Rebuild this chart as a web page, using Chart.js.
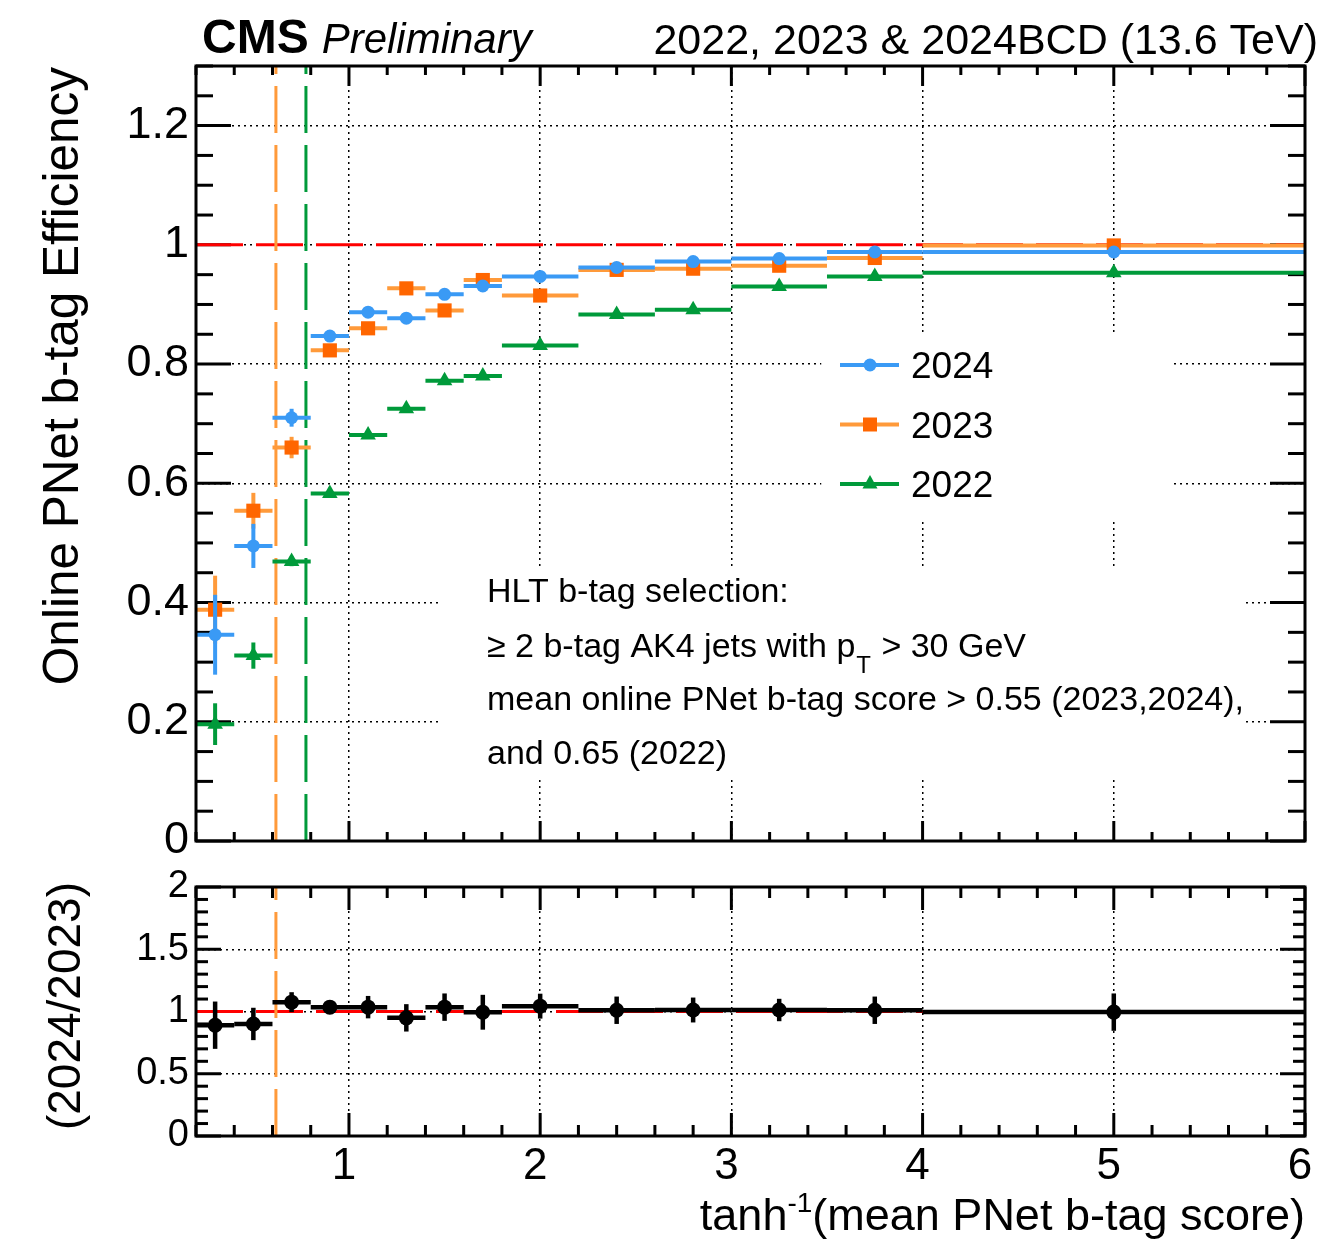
<!DOCTYPE html>
<html>
<head>
<meta charset="utf-8">
<script src="https://cdn.jsdelivr.net/npm/chart.js@4.4.1/dist/chart.umd.min.js"></script>
<style>
  html, body { margin: 0; padding: 0; background: #fff; }
  #wrap { position: relative; width: 1327px; height: 1243px; overflow: hidden; }
  #main-chart { position: absolute; left: 0; top: 0; }
  #ratio-chart { position: absolute; left: 0; top: 850px; }
</style>
</head>
<body>
<div id="wrap">
  <canvas id="main-chart" width="1327" height="880"></canvas>
  <canvas id="ratio-chart" width="1327" height="393"></canvas>
</div>
<script>
// bins in tanh^-1(mean PNet score)
const binLow    = [0.2, 0.4, 0.6, 0.8, 1.0, 1.2, 1.4, 1.6, 1.8, 2.2, 2.6, 3.0, 3.5, 4.0];
const binHigh   = [0.4, 0.6, 0.8, 1.0, 1.2, 1.4, 1.6, 1.8, 2.2, 2.6, 3.0, 3.5, 4.0, 6.0];
const binCenter = [0.3, 0.5, 0.7, 0.9, 1.1, 1.3, 1.5, 1.7, 2.0, 2.4, 2.8, 3.25, 3.75, 5.0];

// efficiencies
const eff2024 = [0.346, 0.495, 0.710, 0.847, 0.887, 0.877, 0.917, 0.931, 0.947, 0.962, 0.972, 0.977, 0.988, 0.988];
const err2024 = [0.067, 0.037, 0.015, 0.008, 0.006, 0.006, 0.005, 0.005, 0.004, 0.004, 0.003, 0.003, 0.003, 0.003];
const eff2023 = [0.388, 0.554, 0.660, 0.823, 0.860, 0.927, 0.890, 0.941, 0.915, 0.958, 0.960, 0.965, 0.978, 0.999];
const err2023 = [0.057, 0.030, 0.018, 0.008, 0.007, 0.006, 0.006, 0.005, 0.004, 0.004, 0.004, 0.003, 0.003, 0.003];
const eff2022 = [0.196, 0.311, 0.469, 0.583, 0.681, 0.725, 0.772, 0.780, 0.831, 0.883, 0.891, 0.930, 0.947, 0.953];
const err2022 = [0.035, 0.022, 0.008, 0.006, 0.006, 0.005, 0.005, 0.005, 0.004, 0.004, 0.004, 0.003, 0.003, 0.003];

// 2024 / 2023 ratio
const ratio    = [0.89, 0.90, 1.075, 1.035, 1.035, 0.949, 1.035, 0.994, 1.043, 1.010, 1.012, 1.012, 1.010, 0.995];
const ratioErr = [0.19, 0.13, 0.08, 0.04, 0.09, 0.11, 0.11, 0.14, 0.10, 0.11, 0.10, 0.09, 0.11, 0.15];

// axes
const xMin = 0.2, xMax = 6;
const xTicks = [1, 2, 3, 4, 5, 6];
const xTickLabels = ['1', '2', '3', '4', '5', '6'];
const effMin = 0, effMax = 1.3;
const effTicks = [0, 0.2, 0.4, 0.6, 0.8, 1.0, 1.2];
const effTickLabels = ['0', '0.2', '0.4', '0.6', '0.8', '1', '1.2'];
const ratioMin = 0, ratioMax = 2;
const ratioTicks = [0, 0.5, 1, 1.5, 2];
const ratioTickLabels = ['0', '0.5', '1', '1.5', '2'];

// selection cuts: atanh(0.55) and atanh(0.65)
const cut2023 = 0.618;
const cut2022 = 0.775;
const refLevel = 1;

const legendLabels = ['2024', '2023', '2022'];

const FONT = '"Liberation Sans", Arial, Helvetica, sans-serif';
const BLUE = '#3a9af5';
const ORANGE_LINE = '#ff9a3a';
const ORANGE = '#ff6600';
const GREEN = '#009a3a';
const RED = '#ff0000';

function steps(from, to, step) {
    const out = [];
    const n = Math.round((to - from) / step);
    for (let i = 0; i <= n; i++) out.push(+(from + i * step).toFixed(4));
    return out;
}

function effDataset(label, values, errors, color, lineColor, style, radius) {
    return {
        label,
        data: binCenter.map((x, i) => ({ x, y: values[i] })),
        errors, lineColor,
        showLine: false,
        pointStyle: style,
        pointRadius: radius,
        pointBackgroundColor: color,
        pointBorderColor: color,
        pointBorderWidth: 0
    };
}

function gridScale(min, max, ticks, labels, extra) {
    return Object.assign({
        type: 'linear', min, max,
        afterBuildTicks: s => { s.ticks = ticks.map(v => ({ value: v })); },
        grid: { color: '#000', lineWidth: 1.5, drawTicks: false },
        border: { display: false, dash: [2, 4] },
        ticks: {
            autoSkip: false, color: '#000',
            callback: v => labels[ticks.indexOf(v)]
        }
    }, extra);
}

// horizontal bin bars and vertical error bars, drawn under each dataset's markers
function drawErrorBars(chart, args) {
    const ds = chart.data.datasets[args.index];
    const { ctx, chartArea: a } = chart;
    const xs = chart.scales.x, ys = chart.scales.y;
    ctx.save();
    ctx.beginPath();
    ctx.rect(a.left, a.top, a.right - a.left, a.bottom - a.top);
    ctx.clip();
    ctx.strokeStyle = ds.lineColor;
    ctx.lineWidth = ds.barWidth || 4;
    ds.data.forEach((p, i) => {
        const py = ys.getPixelForValue(p.y);
        const px = xs.getPixelForValue(p.x);
        ctx.beginPath();
        ctx.moveTo(xs.getPixelForValue(binLow[i]), py);
        ctx.lineTo(xs.getPixelForValue(binHigh[i]), py);
        ctx.stroke();
        ctx.beginPath();
        ctx.moveTo(px, ys.getPixelForValue(p.y - ds.errors[i]));
        ctx.lineTo(px, ys.getPixelForValue(p.y + ds.errors[i]));
        ctx.stroke();
    });
    ctx.restore();
}

function dashedV(chart, value, color) {
    const { ctx, chartArea: a } = chart;
    const px = chart.scales.x.getPixelForValue(value);
    ctx.save();
    ctx.strokeStyle = color;
    ctx.lineWidth = 3;
    ctx.setLineDash([47, 12]);
    ctx.beginPath();
    ctx.moveTo(px, a.bottom);
    ctx.lineTo(px, a.top);
    ctx.stroke();
    ctx.restore();
}

function dashedH(chart, value, color) {
    const { ctx, chartArea: a } = chart;
    const py = chart.scales.y.getPixelForValue(value);
    ctx.save();
    ctx.strokeStyle = color;
    ctx.lineWidth = 3;
    ctx.setLineDash([47, 13]);
    ctx.beginPath();
    ctx.moveTo(a.left, py);
    ctx.lineTo(a.right, py);
    ctx.stroke();
    ctx.restore();
}

// ROOT-like inward ticks on all four sides
function drawTicks(chart, t) {
    const { ctx, chartArea: a } = chart;
    const xs = chart.scales.x, ys = chart.scales.y;
    ctx.save();
    ctx.strokeStyle = '#000';
    ctx.lineWidth = 3;
    const line = (x1, y1, x2, y2) => { ctx.beginPath(); ctx.moveTo(x1, y1); ctx.lineTo(x2, y2); ctx.stroke(); };
    t.xMinor.forEach(v => {
        const px = xs.getPixelForValue(v);
        const len = t.xMajor.includes(v) ? t.xMajorLen : t.xMinorLen;
        line(px, a.bottom, px, a.bottom - len);
        line(px, a.top, px, a.top + len);
    });
    t.yMinor.forEach(v => {
        const py = ys.getPixelForValue(v);
        const len = t.yMajor.includes(v) ? t.yMajorLen : t.yMinorLen;
        line(a.left, py, a.left + len, py);
        line(a.right, py, a.right - len, py);
    });
    ctx.restore();
}

function drawBox(chart) {
    const { ctx, chartArea: a } = chart;
    ctx.save();
    ctx.strokeStyle = '#000';
    ctx.lineWidth = 3;
    ctx.strokeRect(a.left, a.top, a.right - a.left, a.bottom - a.top);
    ctx.restore();
}

function drawMarker(ctx, style, x, y, color) {
    ctx.fillStyle = color;
    ctx.beginPath();
    if (style === 'circle') ctx.arc(x, y, 6.5, 0, Math.PI * 2);
    else if (style === 'rect') ctx.rect(x - 7, y - 7, 14, 14);
    else { ctx.moveTo(x, y - 9); ctx.lineTo(x + 7.5, y + 4.5); ctx.lineTo(x - 7.5, y + 4.5); ctx.closePath(); }
    ctx.fill();
}

// white boxes behind legend and note (data coordinates)
const legendBox = { x0: 3.47, x1: 5.31, y0: 0.54, y1: 0.853 };
const noteBox = { x0: 1.476, x1: 5.676, y0: 0.106, y1: 0.46 };

const mainTicks = {
    xMajor: xTicks, xMinor: steps(0.2, 6, 0.2), xMajorLen: 20, xMinorLen: 9,
    yMajor: effTicks, yMinor: steps(0, 1.3, 0.05), yMajorLen: 35, yMinorLen: 17
};
const ratioTickSpec = {
    xMajor: xTicks, xMinor: steps(0.2, 6, 0.2), xMajorLen: 23, xMinorLen: 11,
    yMajor: ratioTicks, yMinor: steps(0, 2, 0.1), yMajorLen: 25, yMinorLen: 12
};

const mainDecor = {
    id: 'mainDecor',
    beforeDatasetsDraw(chart) {
        const { ctx } = chart;
        const xs = chart.scales.x, ys = chart.scales.y;
        ctx.save();
        ctx.fillStyle = '#fff';
        [legendBox, noteBox].forEach(b => {
            const x0 = xs.getPixelForValue(b.x0), x1 = xs.getPixelForValue(b.x1);
            const y0 = ys.getPixelForValue(b.y1), y1 = ys.getPixelForValue(b.y0);
            ctx.fillRect(x0, y0, x1 - x0, y1 - y0);
        });
        ctx.restore();
        drawTicks(chart, mainTicks);
        dashedH(chart, refLevel, RED);
        dashedV(chart, cut2023, ORANGE_LINE);
        dashedV(chart, cut2022, GREEN);
    },
    beforeDatasetDraw: drawErrorBars,
    afterDraw(chart) {
        const { ctx, chartArea: a } = chart;
        drawBox(chart);
        ctx.save();
        ctx.fillStyle = '#000';
        ctx.textBaseline = 'alphabetic';
        // header
        ctx.textAlign = 'left';
        ctx.font = `bold 48px ${FONT}`;
        ctx.fillText('CMS', 202, 53);
        const wCms = ctx.measureText('CMS').width;
        ctx.font = `italic 42px ${FONT}`;
        ctx.fillText('Preliminary', 202 + wCms + 13, 53);
        ctx.textAlign = 'right';
        ctx.font = `43px ${FONT}`;
        ctx.fillText('2022, 2023 & 2024BCD (13.6 TeV)', 1318, 54);

        // y title
        ctx.save();
        ctx.translate(78, a.top + 1);
        ctx.rotate(-Math.PI / 2);
        ctx.textAlign = 'right';
        ctx.font = `49.5px ${FONT}`;
        ctx.fillText('Online PNet b-tag Efficiency', 0, 0);
        ctx.restore();

        // legend
        const legendRows = [
            { color: BLUE, line: BLUE, style: 'circle' },
            { color: ORANGE, line: ORANGE_LINE, style: 'rect' },
            { color: GREEN, line: GREEN, style: 'triangle' }
        ];
        ctx.textAlign = 'left';
        ctx.font = `37px ${FONT}`;
        legendRows.forEach((r, i) => {
            const y = 365 + i * 59.5;
            ctx.strokeStyle = r.line;
            ctx.lineWidth = 4;
            ctx.beginPath(); ctx.moveTo(840, y); ctx.lineTo(899, y); ctx.stroke();
            drawMarker(ctx, r.style, 870, y, r.color);
            ctx.fillStyle = '#000';
            ctx.fillText(legendLabels[i], 911, y + 13);
        });

        // selection note
        const x = 487;
        ctx.font = `34px ${FONT}`;
        ctx.fillText('HLT b-tag selection:', x, 602);
        const s = '\u2265 2 b-tag AK4 jets with p';
        ctx.fillText(s, x, 657);
        const w = ctx.measureText(s).width;
        ctx.font = `24px ${FONT}`;
        ctx.fillText('T', x + w + 1, 673);
        const wT = ctx.measureText('T').width;
        ctx.font = `34px ${FONT}`;
        ctx.fillText(' > 30 GeV', x + w + wT + 2, 657);
        ctx.fillText('mean online PNet b-tag score > 0.55 (2023,2024),', x, 710);
        ctx.fillText('and 0.65 (2022)', x, 764);
        ctx.restore();
    }
};

const ratioDecor = {
    id: 'ratioDecor',
    beforeDatasetsDraw(chart) {
        drawTicks(chart, ratioTickSpec);
        dashedH(chart, refLevel, RED);
        dashedV(chart, cut2023, ORANGE_LINE);
    },
    beforeDatasetDraw: drawErrorBars,
    afterDraw(chart) {
        const { ctx, chartArea: a } = chart;
        drawBox(chart);
        ctx.save();
        ctx.fillStyle = '#000';
        ctx.textBaseline = 'alphabetic';
        // y title
        ctx.save();
        ctx.translate(80, a.top - 5);
        ctx.rotate(-Math.PI / 2);
        ctx.textAlign = 'right';
        ctx.font = `46px ${FONT}`;
        ctx.fillText('(2024/2023)', 0, 0);
        ctx.restore();
        // x title with superscript
        const big = `45px ${FONT}`, small = `28px ${FONT}`;
        ctx.font = big;
        const w1 = ctx.measureText('tanh').width;
        const w3 = ctx.measureText('(mean PNet b-tag score)').width;
        ctx.font = small;
        const w2 = ctx.measureText('-1').width;
        const x = a.right - (w1 + w2 + w3);
        const y = 380;
        ctx.textAlign = 'left';
        ctx.font = big;
        ctx.fillText('tanh', x, y);
        ctx.font = small;
        ctx.fillText('-1', x + w1, y - 18);
        ctx.font = big;
        ctx.fillText('(mean PNet b-tag score)', x + w1 + w2, y);
        ctx.restore();
    }
};

const mainChart = new Chart(document.getElementById('main-chart'), {
    type: 'scatter',
    data: {
        datasets: [
            effDataset('2024', eff2024, err2024, BLUE, BLUE, 'circle', 6.5),
            effDataset('2023', eff2023, err2023, ORANGE, ORANGE_LINE, 'rect', 10),
            effDataset('2022', eff2022, err2022, GREEN, GREEN, 'triangle', 9)
        ]
    },
    options: {
        responsive: false,
        animation: false,
        events: [],
        layout: { padding: { top: 66, right: 22, left: 0, bottom: 0 } },
        plugins: { legend: { display: false }, tooltip: { enabled: false } },
        scales: {
            x: gridScale(xMin, xMax, xTicks, xTickLabels, {
                afterFit: s => { s.height = 39; }
            }),
            y: gridScale(effMin, effMax, effTicks, effTickLabels, {
                afterFit: s => { s.width = 196; }
            })
        }
    },
    plugins: [mainDecor]
});
mainChart.options.scales.x.ticks.display = false;
mainChart.options.scales.y.ticks.padding = 7;
mainChart.options.scales.y.ticks.font = { family: FONT, size: 45 };
mainChart.update();

const ratioSet = effDataset('ratio', ratio, ratioErr, '#000', '#000', 'circle', 7.5);
ratioSet.barWidth = 4.5;

const ratioChart = new Chart(document.getElementById('ratio-chart'), {
    type: 'scatter',
    data: { datasets: [ratioSet] },
    options: {
        responsive: false,
        animation: false,
        events: [],
        layout: { padding: { top: 37, right: 22, left: 0, bottom: 0 } },
        plugins: { legend: { display: false }, tooltip: { enabled: false } },
        scales: {
            x: gridScale(xMin, xMax, xTicks, xTickLabels, {
                afterFit: s => { s.height = 107; }
            }),
            y: gridScale(ratioMin, ratioMax, ratioTicks, ratioTickLabels, {
                afterFit: s => { s.width = 196; }
            })
        }
    },
    plugins: [ratioDecor]
});
ratioChart.options.scales.x.ticks.padding = 4;
ratioChart.options.scales.x.ticks.labelOffset = -5;
ratioChart.options.scales.x.ticks.font = { family: FONT, size: 44 };
ratioChart.options.scales.y.ticks.padding = 7;
ratioChart.options.scales.y.ticks.font = { family: FONT, size: 38 };
ratioChart.update();
</script>
</body>
</html>
